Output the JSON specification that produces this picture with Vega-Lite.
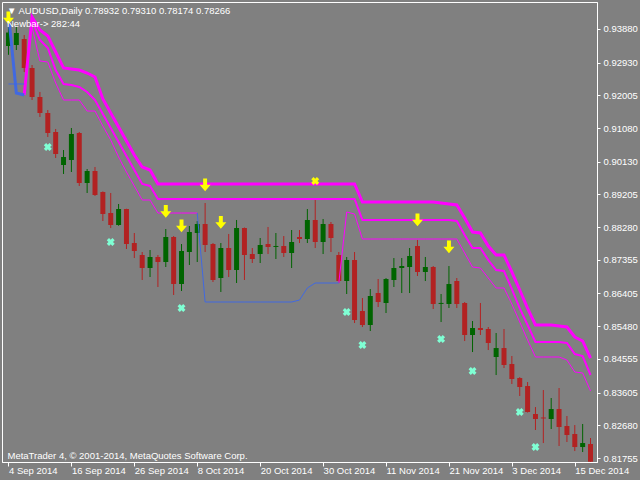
{
  "$schema": "https://vega.github.io/schema/vega-lite/v6.json",
  "width": 595,
  "height": 460,
  "autosize": {"type": "none"},
  "padding": {"left": 2, "top": 2, "right": 43, "bottom": 18},
  "background": "#808080",
  "title": {
    "text": ["▼ AUDUSD,Daily  0.78932 0.79310 0.78174 0.78266", "Newbar-> 282:44"],
    "anchor": "start", "frame": "group", "orient": "top", "offset": -26, "dx": 5,
    "font": "Liberation Sans", "fontSize": 9.5, "fontWeight": "normal", "color": "#ffffff", "lineHeight": 13
  },
  "data": {"values": [
    {"i":0,"date":"4 Sep 2014","o":0.93400,"h":0.94000,"l":0.93150,"c":0.93780,"blueA":0.94300,"blueB":0.92326,"arrow":0.94191},
    {"i":1,"date":"5 Sep 2014","o":0.93428,"h":0.93937,"l":0.93286,"c":0.93767,"blueA":0.92071,"blueB":0.92326},
    {"i":2,"date":"8 Sep 2014","o":0.93597,"h":0.93710,"l":0.92665,"c":0.92778,"band1":0.92015,"blueA":0.92015,"blueB":0.92326},
    {"i":3,"date":"9 Sep 2014","o":0.92778,"h":0.92862,"l":0.91873,"c":0.91958,"band1":0.94219,"band2":0.94134,"band3":0.93937},
    {"i":4,"date":"10 Sep 2014","o":0.91958,"h":0.92100,"l":0.91393,"c":0.91506,"band1":0.93852,"band2":0.93569,"band3":0.92976},
    {"i":5,"date":"11 Sep 2014","o":0.91506,"h":0.91591,"l":0.90827,"c":0.90940,"band1":0.93682,"band2":0.93343,"band3":0.92947,"cross":0.90545},
    {"i":6,"date":"12 Sep 2014","o":0.90969,"h":0.91054,"l":0.90234,"c":0.90347,"band1":0.93230,"band2":0.92721,"band3":0.92354},
    {"i":7,"date":"15 Sep 2014","o":0.90036,"h":0.90460,"l":0.89782,"c":0.90262,"band1":0.92778,"band2":0.92326,"band3":0.91873},
    {"i":8,"date":"16 Sep 2014","o":0.90177,"h":0.91082,"l":0.89838,"c":0.90912,"band1":0.92750,"band2":0.92297,"band3":0.91873},
    {"i":9,"date":"17 Sep 2014","o":0.90940,"h":0.90969,"l":0.89443,"c":0.89527,"band1":0.92721,"band2":0.92241,"band3":0.91873},
    {"i":10,"date":"18 Sep 2014","o":0.89527,"h":0.89923,"l":0.89245,"c":0.89867,"band1":0.92636,"band2":0.92099,"band3":0.91562},
    {"i":11,"date":"19 Sep 2014","o":0.89867,"h":0.89980,"l":0.89160,"c":0.89188,"band1":0.92523,"band2":0.91873,"band3":0.91562},
    {"i":12,"date":"22 Sep 2014","o":0.89273,"h":0.89290,"l":0.88453,"c":0.88651,"band1":0.91902,"band2":0.91478,"band3":0.91138},
    {"i":13,"date":"23 Sep 2014","o":0.88679,"h":0.89245,"l":0.88255,"c":0.88340,"band1":0.91506,"band2":0.91082,"band3":0.90743,"cross":0.87860},
    {"i":14,"date":"24 Sep 2014","o":0.88340,"h":0.88934,"l":0.88320,"c":0.88792,"band1":0.91110,"band2":0.90686,"band3":0.90262},
    {"i":15,"date":"25 Sep 2014","o":0.88792,"h":0.88800,"l":0.87662,"c":0.87803,"band1":0.90714,"band2":0.90290,"band3":0.89838},
    {"i":16,"date":"26 Sep 2014","o":0.87831,"h":0.88114,"l":0.87407,"c":0.87605,"band1":0.90319,"band2":0.89895,"band3":0.89443},
    {"i":17,"date":"29 Sep 2014","o":0.87492,"h":0.87577,"l":0.86786,"c":0.87125,"band1":0.89980,"band2":0.89499,"band3":0.89047},
    {"i":18,"date":"30 Sep 2014","o":0.87125,"h":0.87633,"l":0.86870,"c":0.87436,"band1":0.89895,"band2":0.89443,"band3":0.89047},
    {"i":19,"date":"1 Oct 2014","o":0.87436,"h":0.87492,"l":0.86588,"c":0.87294,"band1":0.89499,"band2":0.89075,"band3":0.88679},
    {"i":20,"date":"2 Oct 2014","o":0.87294,"h":0.88227,"l":0.87153,"c":0.88001,"band1":0.89499,"band2":0.89075,"band3":0.88679,"arrow":0.88722},
    {"i":21,"date":"3 Oct 2014","o":0.88001,"h":0.88029,"l":0.86362,"c":0.86672,"band1":0.89499,"band2":0.89075,"band3":0.88679},
    {"i":22,"date":"6 Oct 2014","o":0.86672,"h":0.87803,"l":0.86475,"c":0.87605,"band1":0.89499,"band2":0.89075,"band3":0.88679,"arrow":0.88312,"cross":0.85994},
    {"i":23,"date":"7 Oct 2014","o":0.87577,"h":0.88312,"l":0.87210,"c":0.88142,"band1":0.89499,"band2":0.89075,"band3":0.88679},
    {"i":24,"date":"8 Oct 2014","o":0.88114,"h":0.88453,"l":0.87294,"c":0.88368,"band1":0.89499,"band2":0.89075,"band3":0.88679,"blueC":0.88679},
    {"i":25,"date":"9 Oct 2014","o":0.88368,"h":0.88962,"l":0.87577,"c":0.87775,"band1":0.89499,"band2":0.89075,"blueC":0.86164,"arrow":0.89471},
    {"i":26,"date":"10 Oct 2014","o":0.87803,"h":0.87831,"l":0.86729,"c":0.86786,"band1":0.89499,"band2":0.89075,"blueC":0.86164},
    {"i":27,"date":"13 Oct 2014","o":0.86842,"h":0.87831,"l":0.86447,"c":0.87690,"band1":0.89499,"band2":0.89075,"blueC":0.86164,"arrow":0.88411},
    {"i":28,"date":"14 Oct 2014","o":0.87690,"h":0.88086,"l":0.86870,"c":0.87068,"band1":0.89499,"band2":0.89075,"blueC":0.86164},
    {"i":29,"date":"15 Oct 2014","o":0.87068,"h":0.88482,"l":0.86701,"c":0.88255,"band1":0.89499,"band2":0.89075,"blueC":0.86164},
    {"i":30,"date":"16 Oct 2014","o":0.88255,"h":0.88270,"l":0.86786,"c":0.87492,"band1":0.89499,"band2":0.89075,"blueC":0.86164},
    {"i":31,"date":"17 Oct 2014","o":0.87520,"h":0.87690,"l":0.87266,"c":0.87379,"band1":0.89499,"band2":0.89075,"blueC":0.86164},
    {"i":32,"date":"20 Oct 2014","o":0.87520,"h":0.87973,"l":0.87266,"c":0.87775,"band1":0.89499,"band2":0.89075,"blueC":0.86164},
    {"i":33,"date":"21 Oct 2014","o":0.87803,"h":0.88284,"l":0.87520,"c":0.87718,"band1":0.89499,"band2":0.89075,"blueC":0.86164},
    {"i":34,"date":"22 Oct 2014","o":0.87720,"h":0.88114,"l":0.87379,"c":0.87748,"band1":0.89499,"band2":0.89075,"blueC":0.86164},
    {"i":35,"date":"23 Oct 2014","o":0.87746,"h":0.88029,"l":0.87436,"c":0.87549,"band1":0.89499,"band2":0.89075,"blueC":0.86164},
    {"i":36,"date":"24 Oct 2014","o":0.87549,"h":0.88199,"l":0.87125,"c":0.87860,"band1":0.89499,"band2":0.89075,"blueC":0.86164},
    {"i":37,"date":"27 Oct 2014","o":0.88001,"h":0.88199,"l":0.87831,"c":0.87944,"band1":0.89499,"band2":0.89075,"blueC":0.86220},
    {"i":38,"date":"28 Oct 2014","o":0.87944,"h":0.88792,"l":0.87831,"c":0.88482,"band1":0.89499,"band2":0.89075,"blueC":0.86560},
    {"i":39,"date":"29 Oct 2014","o":0.88482,"h":0.89075,"l":0.87690,"c":0.87860,"band1":0.89499,"band2":0.89075,"blueC":0.86701,"star":0.89584},
    {"i":40,"date":"30 Oct 2014","o":0.87860,"h":0.88510,"l":0.87520,"c":0.88368,"band1":0.89499,"band2":0.89075,"blueC":0.86701},
    {"i":41,"date":"31 Oct 2014","o":0.88368,"h":0.88425,"l":0.87577,"c":0.87973,"band1":0.89499,"band2":0.89075,"blueC":0.86701},
    {"i":42,"date":"3 Nov 2014","o":0.87492,"h":0.87577,"l":0.86701,"c":0.86757,"band1":0.89499,"band2":0.89075,"blueC":0.86701,"band3b":0.86701},
    {"i":43,"date":"4 Nov 2014","o":0.86757,"h":0.87436,"l":0.86390,"c":0.87351,"band1":0.89499,"band2":0.89075,"band3b":0.88708,"cross":0.85881},
    {"i":44,"date":"5 Nov 2014","o":0.87351,"h":0.87577,"l":0.85570,"c":0.85655,"band1":0.89499,"band2":0.89075,"band3b":0.88651},
    {"i":45,"date":"6 Nov 2014","o":0.85909,"h":0.86277,"l":0.85457,"c":0.85514,"band1":0.88990,"band2":0.88482,"band3b":0.87944,"cross":0.84949},
    {"i":46,"date":"7 Nov 2014","o":0.85514,"h":0.86531,"l":0.85344,"c":0.86334,"band1":0.88990,"band2":0.88482,"band3b":0.87944},
    {"i":47,"date":"10 Nov 2014","o":0.86418,"h":0.86814,"l":0.86022,"c":0.86164,"band1":0.88990,"band2":0.88482,"band3b":0.87944},
    {"i":48,"date":"11 Nov 2014","o":0.86136,"h":0.86840,"l":0.85853,"c":0.86814,"band1":0.88990,"band2":0.88482,"band3b":0.87944},
    {"i":49,"date":"12 Nov 2014","o":0.86786,"h":0.87407,"l":0.86588,"c":0.87125,"band1":0.88990,"band2":0.88482,"band3b":0.87944},
    {"i":50,"date":"13 Nov 2014","o":0.87125,"h":0.87407,"l":0.86418,"c":0.87181,"band1":0.88990,"band2":0.88482,"band3b":0.87944},
    {"i":51,"date":"14 Nov 2014","o":0.87153,"h":0.87690,"l":0.86418,"c":0.87464,"band1":0.88990,"band2":0.88482,"band3b":0.87944},
    {"i":52,"date":"17 Nov 2014","o":0.87746,"h":0.87916,"l":0.86899,"c":0.87012,"band1":0.88990,"band2":0.88482,"band3b":0.87944,"arrow":0.88482},
    {"i":53,"date":"18 Nov 2014","o":0.87012,"h":0.87436,"l":0.86757,"c":0.87153,"band1":0.88990,"band2":0.88482,"band3b":0.87944},
    {"i":54,"date":"19 Nov 2014","o":0.87153,"h":0.87181,"l":0.85966,"c":0.86107,"band1":0.88990,"band2":0.88482,"band3b":0.87944},
    {"i":55,"date":"20 Nov 2014","o":0.86110,"h":0.86390,"l":0.85598,"c":0.86138,"band1":0.88962,"band2":0.88482,"band3b":0.87944,"cross":0.85118},
    {"i":56,"date":"21 Nov 2014","o":0.86107,"h":0.87181,"l":0.85994,"c":0.86672,"band1":0.88934,"band2":0.88482,"band3b":0.87944,"arrow":0.87718},
    {"i":57,"date":"24 Nov 2014","o":0.86757,"h":0.86842,"l":0.85994,"c":0.86107,"band1":0.88906,"band2":0.88453,"band3b":0.87944},
    {"i":58,"date":"25 Nov 2014","o":0.86136,"h":0.86164,"l":0.85061,"c":0.85231,"band1":0.88538,"band2":0.88058,"band3b":0.87549},
    {"i":59,"date":"26 Nov 2014","o":0.85231,"h":0.85627,"l":0.84750,"c":0.85429,"band1":0.88142,"band2":0.87690,"band3b":0.87153,"cross":0.84214},
    {"i":60,"date":"27 Nov 2014","o":0.85429,"h":0.86136,"l":0.85231,"c":0.85372,"band1":0.88114,"band2":0.87690,"band3b":0.87125},
    {"i":61,"date":"28 Nov 2014","o":0.85401,"h":0.85457,"l":0.84807,"c":0.85005,"band1":0.87746,"band2":0.87351,"band3b":0.86842},
    {"i":62,"date":"1 Dec 2014","o":0.84609,"h":0.85288,"l":0.84100,"c":0.84863,"band1":0.87492,"band2":0.87068,"band3b":0.86560},
    {"i":63,"date":"2 Dec 2014","o":0.84863,"h":0.85401,"l":0.84298,"c":0.84383,"band1":0.87492,"band2":0.87040,"band3b":0.86560},
    {"i":64,"date":"3 Dec 2014","o":0.84411,"h":0.84638,"l":0.83846,"c":0.83987,"band1":0.87012,"band2":0.86531,"band3b":0.86107},
    {"i":65,"date":"4 Dec 2014","o":0.84015,"h":0.84040,"l":0.83507,"c":0.83761,"band1":0.86503,"band2":0.85983,"band3b":0.85599,"cross":0.83055},
    {"i":66,"date":"5 Dec 2014","o":0.83789,"h":0.83902,"l":0.83040,"c":0.83055,"band1":0.85983,"band2":0.85514,"band3b":0.85090},
    {"i":67,"date":"8 Dec 2014","o":0.82998,"h":0.83196,"l":0.82546,"c":0.82857,"band1":0.85514,"band2":0.85033,"band3b":0.84610,"cross":0.82066},
    {"i":68,"date":"9 Dec 2014","o":0.82900,"h":0.83676,"l":0.82178,"c":0.82872,"band1":0.85514,"band2":0.85033,"band3b":0.84610},
    {"i":69,"date":"10 Dec 2014","o":0.82857,"h":0.83450,"l":0.82574,"c":0.83139,"band1":0.85514,"band2":0.85033,"band3b":0.84610},
    {"i":70,"date":"11 Dec 2014","o":0.83139,"h":0.83733,"l":0.82094,"c":0.82631,"band1":0.85486,"band2":0.85033,"band3b":0.84610},
    {"i":71,"date":"12 Dec 2014","o":0.82659,"h":0.82942,"l":0.82207,"c":0.82405,"band1":0.85457,"band2":0.85005,"band3b":0.84525},
    {"i":72,"date":"15 Dec 2014","o":0.82433,"h":0.82687,"l":0.81952,"c":0.82065,"band1":0.85175,"band2":0.84694,"band3b":0.84186},
    {"i":73,"date":"16 Dec 2014","o":0.82065,"h":0.82716,"l":0.81924,"c":0.82178,"band1":0.85062,"band2":0.84638,"band3b":0.84157},
    {"i":74,"date":"17 Dec 2014","o":0.82150,"h":0.82320,"l":0.81645,"c":0.81650,"band1":0.84581,"band2":0.84101,"band3b":0.83649}
  ]},
  "encoding": {
    "x": {
      "field": "i", "type": "quantitative",
      "scale": {"domain": [-0.1875, 74.1875], "nice": false, "zero": false},
      "axis": {
        "values": [0, 8, 16, 24, 32, 40, 48, 56, 64, 72], "tickCount": 20,
        "labelExpr": "['4 Sep 2014','16 Sep 2014','26 Sep 2014','8 Oct 2014','20 Oct 2014','30 Oct 2014','11 Nov 2014','21 Nov 2014','3 Dec 2014','15 Dec 2014'][round(datum.value / 8)]",
        "labelAlign": "left", "labelBaseline": "top", "labelPadding": -1, "labelDx": -1,
        "labelFlush": false, "labelOverlap": false, "tickSize": 4,
        "title": "MetaTrader 4, © 2001-2014, MetaQuotes Software Corp.",
        "titleX": 5, "titleY": -7, "titleAlign": "left", "titleBaseline": "middle",
        "titleFontSize": 9.5, "titleFontWeight": "normal", "titleColor": "#ffffff"
      }
    }
  },
  "layer": [
    {
      "mark": {"type": "rule", "strokeWidth": 1, "clip": true},
      "encoding": {
        "y": {
          "field": "l", "type": "quantitative",
          "scale": {"domain": [0.81642, 0.94643], "nice": false, "zero": false},
          "axis": {
            "orient": "right", "title": null, "format": ".5f", "tickCount": 30,
            "values": [0.93880, 0.92930, 0.92005, 0.91080, 0.90130, 0.89205, 0.88280, 0.87355, 0.86405, 0.85480, 0.84555, 0.83605, 0.82680, 0.81755],
            "tickSize": 3, "labelPadding": 3, "labelBaseline": "middle",
            "labelOverlap": false, "labelFlush": false, "labelBound": false
          }
        },
        "y2": {"field": "h"},
        "color": {"condition": {"test": "datum.c >= datum.o", "value": "#006400"}, "value": "#b22222"}
      }
    },
    {
      "mark": {"type": "bar", "width": 5, "clip": true},
      "encoding": {
        "y": {"field": "o", "type": "quantitative", "scale": {"domain": [0.81642, 0.94643], "nice": false, "zero": false}, "axis": {"orient": "right", "title": null}},
        "y2": {"field": "c"},
        "color": {"condition": {"test": "datum.c >= datum.o", "value": "#006400"}, "value": "#b22222"}
      }
    },
    {
      "mark": {"type": "line", "color": "#ff00ff", "strokeWidth": 3, "clip": true},
      "encoding": {"y": {"field": "band1", "type": "quantitative", "scale": {"domain": [0.81642, 0.94643], "nice": false, "zero": false}, "axis": {"orient": "right", "title": null}}}
    },
    {
      "mark": {"type": "line", "color": "#ff00ff", "strokeWidth": 2, "clip": true},
      "encoding": {"y": {"field": "band2", "type": "quantitative", "scale": {"domain": [0.81642, 0.94643], "nice": false, "zero": false}, "axis": {"orient": "right", "title": null}}}
    },
    {
      "mark": {"type": "line", "color": "#ff00ff", "strokeWidth": 1, "clip": true},
      "encoding": {"y": {"field": "band3", "type": "quantitative", "scale": {"domain": [0.81642, 0.94643], "nice": false, "zero": false}, "axis": {"orient": "right", "title": null}}}
    },
    {
      "mark": {"type": "line", "color": "#ff00ff", "strokeWidth": 1, "clip": true},
      "encoding": {"y": {"field": "band3b", "type": "quantitative", "scale": {"domain": [0.81642, 0.94643], "nice": false, "zero": false}, "axis": {"orient": "right", "title": null}}}
    },
    {
      "mark": {"type": "line", "color": "#4169e1", "strokeWidth": 3, "clip": true},
      "encoding": {"y": {"field": "blueA", "type": "quantitative", "scale": {"domain": [0.81642, 0.94643], "nice": false, "zero": false}, "axis": {"orient": "right", "title": null}}}
    },
    {
      "mark": {"type": "line", "color": "#4169e1", "strokeWidth": 1, "clip": true},
      "encoding": {"y": {"field": "blueB", "type": "quantitative", "scale": {"domain": [0.81642, 0.94643], "nice": false, "zero": false}, "axis": {"orient": "right", "title": null}}}
    },
    {
      "mark": {"type": "line", "color": "#4169e1", "strokeWidth": 1, "clip": true},
      "encoding": {"y": {"field": "blueC", "type": "quantitative", "scale": {"domain": [0.81642, 0.94643], "nice": false, "zero": false}, "axis": {"orient": "right", "title": null}}}
    },
    {
      "mark": {"type": "point", "shape": "M-0.36,-1.2L0.36,-1.2L0.36,-0.05L1,-0.05L0,1.15L-1,-0.05L-0.36,-0.05Z", "size": 121, "filled": true, "color": "#ffff00", "opacity": 1, "clip": true},
      "encoding": {"y": {"field": "arrow", "type": "quantitative", "scale": {"domain": [0.81642, 0.94643], "nice": false, "zero": false}, "axis": {"orient": "right", "title": null}}}
    },
    {
      "mark": {"type": "point", "shape": "cross", "angle": 45, "size": 64, "filled": true, "color": "#7fffd4", "opacity": 1, "clip": true},
      "encoding": {"y": {"field": "cross", "type": "quantitative", "scale": {"domain": [0.81642, 0.94643], "nice": false, "zero": false}, "axis": {"orient": "right", "title": null}}}
    },
    {
      "mark": {"type": "point", "shape": "cross", "angle": 45, "size": 64, "filled": true, "color": "#ffff00", "opacity": 1, "clip": true},
      "encoding": {"y": {"field": "star", "type": "quantitative", "scale": {"domain": [0.81642, 0.94643], "nice": false, "zero": false}, "axis": {"orient": "right", "title": null}}}
    }
  ],
  "config": {
    "view": {"stroke": "#ffffff", "strokeWidth": 1},
    "axis": {
      "grid": false, "labelFont": "Liberation Sans", "labelFontSize": 9.5, "labelColor": "#ffffff",
      "tickColor": "#ffffff", "domainColor": "#ffffff", "titleFont": "Liberation Sans"
    },
    "axisY": {
      "format": ".5f", "tickSize": 3, "labelPadding": 3, "labelBaseline": "middle",
      "labelFlush": false, "labelOverlap": false
    }
  }
}
